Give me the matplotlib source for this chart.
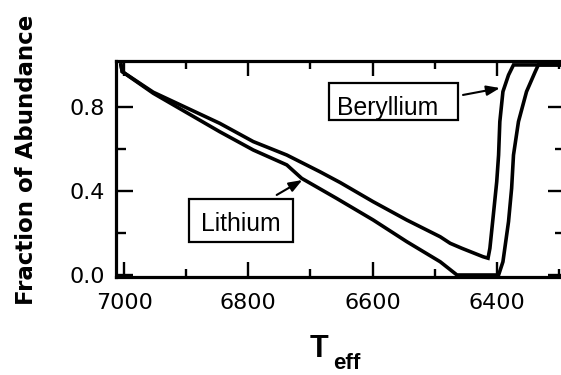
import matplotlib
matplotlib.use("Agg")
import matplotlib.pyplot as plt
from matplotlib.patches import Rectangle
from matplotlib.ticker import FixedLocator, FormatStrFormatter

# values
li_teff = [7005, 7003, 6953, 6846, 6792, 6738, 6714, 6658, 6599, 6545,
           6491, 6464, 6397, 6390, 6381, 6376, 6373, 6365, 6352, 6338,
           6333, 6290]
li_frac = [1.0, 0.968, 0.865, 0.682, 0.595, 0.524, 0.460, 0.365, 0.262, 0.159,
           0.063, 0.0, 0.0, 0.063, 0.254, 0.413, 0.571, 0.730, 0.873, 0.968,
           1.0, 1.0]

be_teff = [7005, 7003, 6953, 6846, 6792, 6738, 6685, 6652, 6599,
           6545, 6491, 6475, 6456, 6422, 6414, 6411, 6406, 6400, 6397,
           6395, 6390, 6381, 6373, 6290]
be_frac = [1.0, 0.968, 0.870, 0.722, 0.635, 0.571, 0.492, 0.440, 0.349,
           0.262, 0.182, 0.151, 0.127, 0.087, 0.080, 0.127, 0.270, 0.444, 0.571,
           0.730, 0.873, 0.952, 1.0, 1.0]

x_major = [7000, 6800, 6600, 6400]
x_minor = [6900, 6700, 6500, 6300]
y_major = [0.0, 0.4, 0.8]
y_minor = [0.2, 0.6]

fig = plt.figure(figsize=(5.61, 3.75), dpi=100)
ax = fig.add_axes([0.2068, 0.2605, 0.8004, 0.5776])

ax.plot(li_teff, li_frac, color='black', lw=2.6, solid_joinstyle='miter')
ax.plot(be_teff, be_frac, color='black', lw=2.6, solid_joinstyle='miter')

ax.set_xlim(7013, 6290)
ax.set_ylim(-0.011, 1.02)

for s in ax.spines.values():
    s.set_linewidth(2.3)

ax.xaxis.set_major_locator(FixedLocator(x_major))
ax.xaxis.set_minor_locator(FixedLocator(x_minor))
ax.yaxis.set_major_locator(FixedLocator(y_major))
ax.yaxis.set_minor_locator(FixedLocator(y_minor))
ax.xaxis.set_major_formatter(FormatStrFormatter('%d'))
ax.yaxis.set_major_formatter(FormatStrFormatter('%.1f'))

ax.tick_params(which='both', direction='in', top=True, right=True, width=1.7,
               labelsize=16, colors='black')
ax.tick_params(axis='x', which='major', length=11, pad=11.5)
ax.tick_params(axis='x', which='minor', length=6)
ax.tick_params(axis='y', which='major', length=12, pad=8)
ax.tick_params(axis='y', which='minor', length=7)
for lab in ax.get_xticklabels() + ax.get_yticklabels():
    lab.set_fontfamily('DejaVu Sans')

# axis titles
fig.text(310 / 561, 1 - 357 / 375, 'T', ha='left', va='baseline',
         fontsize=22, fontweight='bold', family='Liberation Sans')
fig.text(333 / 561, 1 - 369 / 375, 'eff', ha='left', va='baseline',
         fontsize=16, fontweight='bold', family='Liberation Sans')
fig.text(27 / 561, 1 - 160 / 375, 'Fraction of Abundance', rotation=90,
         ha='center', va='center', fontsize=16.5, fontweight='bold',
         family='DejaVu Sans')

# label boxes
ax.add_patch(Rectangle((6461.9, 0.740), 207.7, 0.174, fill=False,
                       lw=1.6, ec='black', zorder=3))
ax.text(6575.9, 0.763, 'Beryllium', ha='center', va='baseline',
        fontsize=17.8, family='Liberation Sans')
ax.add_patch(Rectangle((6728.5, 0.159), 166.5, 0.201, fill=False,
                       lw=1.6, ec='black', zorder=3))
ax.text(6811.8, 0.211, 'Lithium', ha='center', va='baseline',
        fontsize=17.8, family='Liberation Sans')

arrow = dict(arrowstyle='-|>,head_length=0.8,head_width=0.3', color='black',
             lw=1.5, shrinkA=0, shrinkB=0)
ax.annotate('', xy=(6394.8, 0.890), xytext=(6454.3, 0.857), arrowprops=arrow)
ax.annotate('', xy=(6713, 0.452), xytext=(6754.3, 0.381), arrowprops=arrow)

fig.savefig('out.png', dpi=100)
